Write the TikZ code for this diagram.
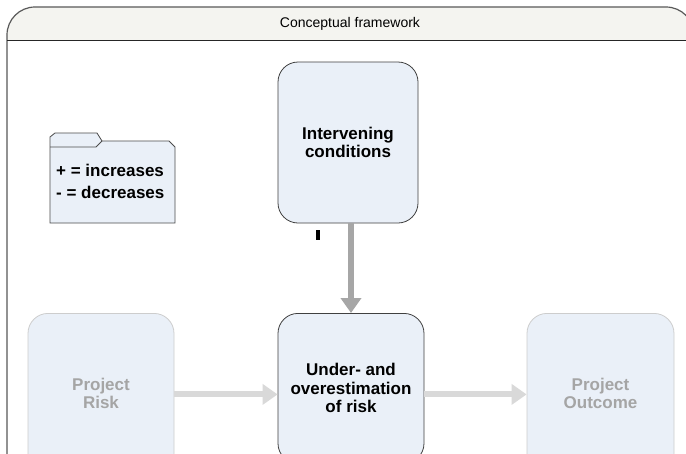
\documentclass[tikz,border=0pt]{standalone}
\usepackage{fontspec}
\setmainfont{Liberation Sans}
\usetikzlibrary{arrows.meta}
\definecolor{boxfill}{RGB}{234,240,248}
\definecolor{fadetext}{RGB}{165,165,165}
\definecolor{fadeline}{RGB}{205,205,205}
\definecolor{darkarrow}{RGB}{166,166,166}
\definecolor{lightarrow}{RGB}{217,217,217}
\definecolor{headfill}{RGB}{244,244,240}
\begin{document}
\begin{tikzpicture}[x=1pt,y=-1pt,
  activebox/.style={draw=black!75, line width=0.8pt, fill=boxfill, rounded corners=20pt, align=center, font=\fontsize{17}{18.5}\selectfont\bfseries, inner sep=0pt},
  fadebox/.style={activebox, draw=fadeline, text=fadetext},
  bigarrow/.style={line width=6pt, -{Triangle[length=15pt,width=20pt]}},
  frameline/.style={draw=black!65, line width=1.2pt},
]
\useasboundingbox (0,0) rectangle (686,453);
\fill[white] (0,0) rectangle (686,453);
% frame header
\begin{scope}
  \clip (0,0) rectangle (686,40);
  \fill[headfill, rounded corners=28pt] (7,470) -- (7,7) -- (694,7) -- (694,470) -- cycle;
\end{scope}
\draw[frameline, rounded corners=28pt] (7,470) -- (7,7) -- (694,7) -- (694,470);
\draw[black!85, line width=0.8pt] (7,40) -- (694,40);
\node[font=\fontsize{14}{16}\selectfont] (title) at (350,24) {Conceptual framework};
% legend folder
\draw[black!70, line width=0.8pt, fill=boxfill] (50,223) -- (50,137) -- (55,133) -- (97,133) -- (102,141) -- (169,141) -- (175,147) -- (175,223) -- cycle;
\draw[black!70, line width=0.8pt] (50,147) -- (96,147) -- (102,141);
\node[anchor=west, align=left, inner sep=0pt, font=\fontsize{17}{22}\selectfont\bfseries] (legend) at (56,181) {+ = increases\\- = decreases};
% boxes
\node[activebox, minimum width=140pt, minimum height=161pt] (inter) at (348,142.5) {Intervening\\conditions};
\node[fadebox, anchor=north, minimum width=146pt, minimum height=160pt] (risk) at (101,313) {Project\\Risk};
\node[activebox, anchor=north, minimum width=146pt, minimum height=150pt] (mid) at (351,313) {Under- and\\overestimation\\of risk};
\node[fadebox, anchor=north, minimum width=147pt, minimum height=160pt] (out) at (600.5,313) {Project\\Outcome};
% mark
\fill[black] (316,230) rectangle (320,240);
% arrows
\draw[bigarrow, darkarrow] (inter.south -| mid.north) -- (mid.north);
\draw[bigarrow, lightarrow] ([yshift=-1pt]risk.east) -- ([yshift=-1pt]risk.east -| mid.west);
\draw[bigarrow, lightarrow] ([yshift=-6pt]mid.east) -- ([yshift=-6pt]mid.east -| out.west);
\end{tikzpicture}
\end{document}
